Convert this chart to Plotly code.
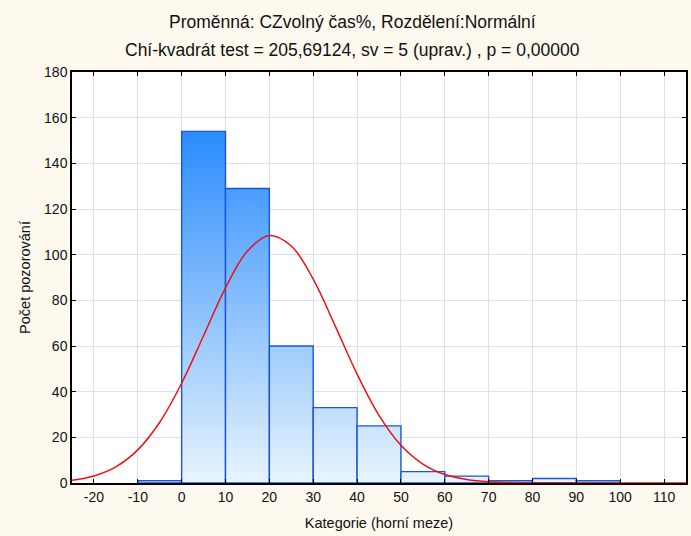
import plotly.graph_objects as go

# ---- data ----
bin_lower = [-10, 0, 10, 20, 30, 40, 50, 60, 70, 80, 90]
bin_upper = [0, 10, 20, 30, 40, 50, 60, 70, 80, 90, 100]
counts = [1, 154, 129, 60, 33, 25, 5, 3, 1, 2, 1]

curve_x = [-25, -20, -15, -10, -5, 0, 5, 10, 15, 20, 25, 30, 35, 40, 45, 50,
           55, 60, 65, 70, 75, 80, 85, 90, 95, 100, 105, 110, 115]
curve_y = [1.2, 3.1, 7.1, 14.5, 26.6, 43.7, 64.5, 85.5, 101.6, 108.4, 103.8, 89.3,
           68.8, 47.7, 29.6, 16.5, 8.3, 3.7, 1.5, 0.5, 0.2, 0.05, 0.01, 0, 0, 0, 0, 0, 0]

x_ticks = [-20, -10, 0, 10, 20, 30, 40, 50, 60, 70, 80, 90, 100, 110]
y_ticks = [0, 20, 40, 60, 80, 100, 120, 140, 160, 180]

title_line1 = "Proměnná: CZvolný čas%, Rozdělení:Normální"
title_line2 = "Chí-kvadrát test = 205,69124, sv = 5 (uprav.) , p = 0,00000"
x_title = "Kategorie (horní meze)"
y_title = "Počet pozorování"

FONT = "Liberation Sans, Arial, sans-serif"

fig = go.Figure()

for lo, hi, c in zip(bin_lower, bin_upper, counts):
    if c <= 0:
        continue
    fig.add_trace(go.Scatter(
        x=[lo, lo, hi, hi, lo], y=[0, c, c, 0, 0],
        mode="lines", fill="toself",
        line=dict(color="#1a55d6", width=1.4),
        fillgradient=dict(type="vertical",
                          colorscale=[[0, "#e9f4ff"], [0.25, "#b9dafc"], [1, "#2a8cff"]],
                          start=0, stop=154),
        hoverinfo="skip", showlegend=False))

fig.add_trace(go.Scatter(
    x=curve_x, y=curve_y, mode="lines", line=dict(color="#ee1111", width=1.5, shape="spline"),
    showlegend=False, hoverinfo="skip"))

L, R, T, B = 72, 3, 72, 53
title_x = (353 - L) / (691 - L - R)
for txt, shift in [(title_line1, 50), (title_line2, 22)]:
    fig.add_annotation(text=txt, xref="paper", yref="paper", x=title_x, y=1,
                       xanchor="center", yanchor="middle", yshift=shift,
                       showarrow=False, font=dict(size=17.5, family=FONT, color="#111111"))

fig.update_layout(
    width=691, height=536,
    paper_bgcolor="#fdf9ef", plot_bgcolor="white",
    margin=dict(l=L, r=R, t=T, b=B),
    font=dict(family=FONT, color="#111111", size=14),
)

fig.update_xaxes(
    range=[-25, 115], tickvals=x_ticks, ticktext=[str(v) for v in x_ticks],
    showgrid=True, gridcolor="#e0e0e0", gridwidth=1, zeroline=False,
    showline=True, linecolor="black", linewidth=1.5, mirror="ticks",
    ticks="inside", ticklen=4, tickcolor="black",
    tickfont=dict(size=14),
    title=dict(text=x_title, font=dict(size=14.5), standoff=14),
)
fig.update_yaxes(
    range=[0, 180], tickvals=y_ticks, ticktext=[str(v) for v in y_ticks],
    showgrid=True, gridcolor="#e0e0e0", gridwidth=1, zeroline=False,
    showline=True, linecolor="black", linewidth=1.5, mirror="ticks",
    ticks="inside", ticklen=4, tickcolor="black",
    tickfont=dict(size=14),
    title=dict(text=y_title, font=dict(size=14.5), standoff=10),
)

fig.write_html("out.html", config={"displayModeBar": False})

# remove the browser's default page margin so the figure sits at the window origin
with open("out.html", encoding="utf-8") as f:
    html = f.read()
html = html.replace("<head>", "<head><style>html,body{margin:0;padding:0;}</style>", 1)
with open("out.html", "w", encoding="utf-8") as f:
    f.write(html)
